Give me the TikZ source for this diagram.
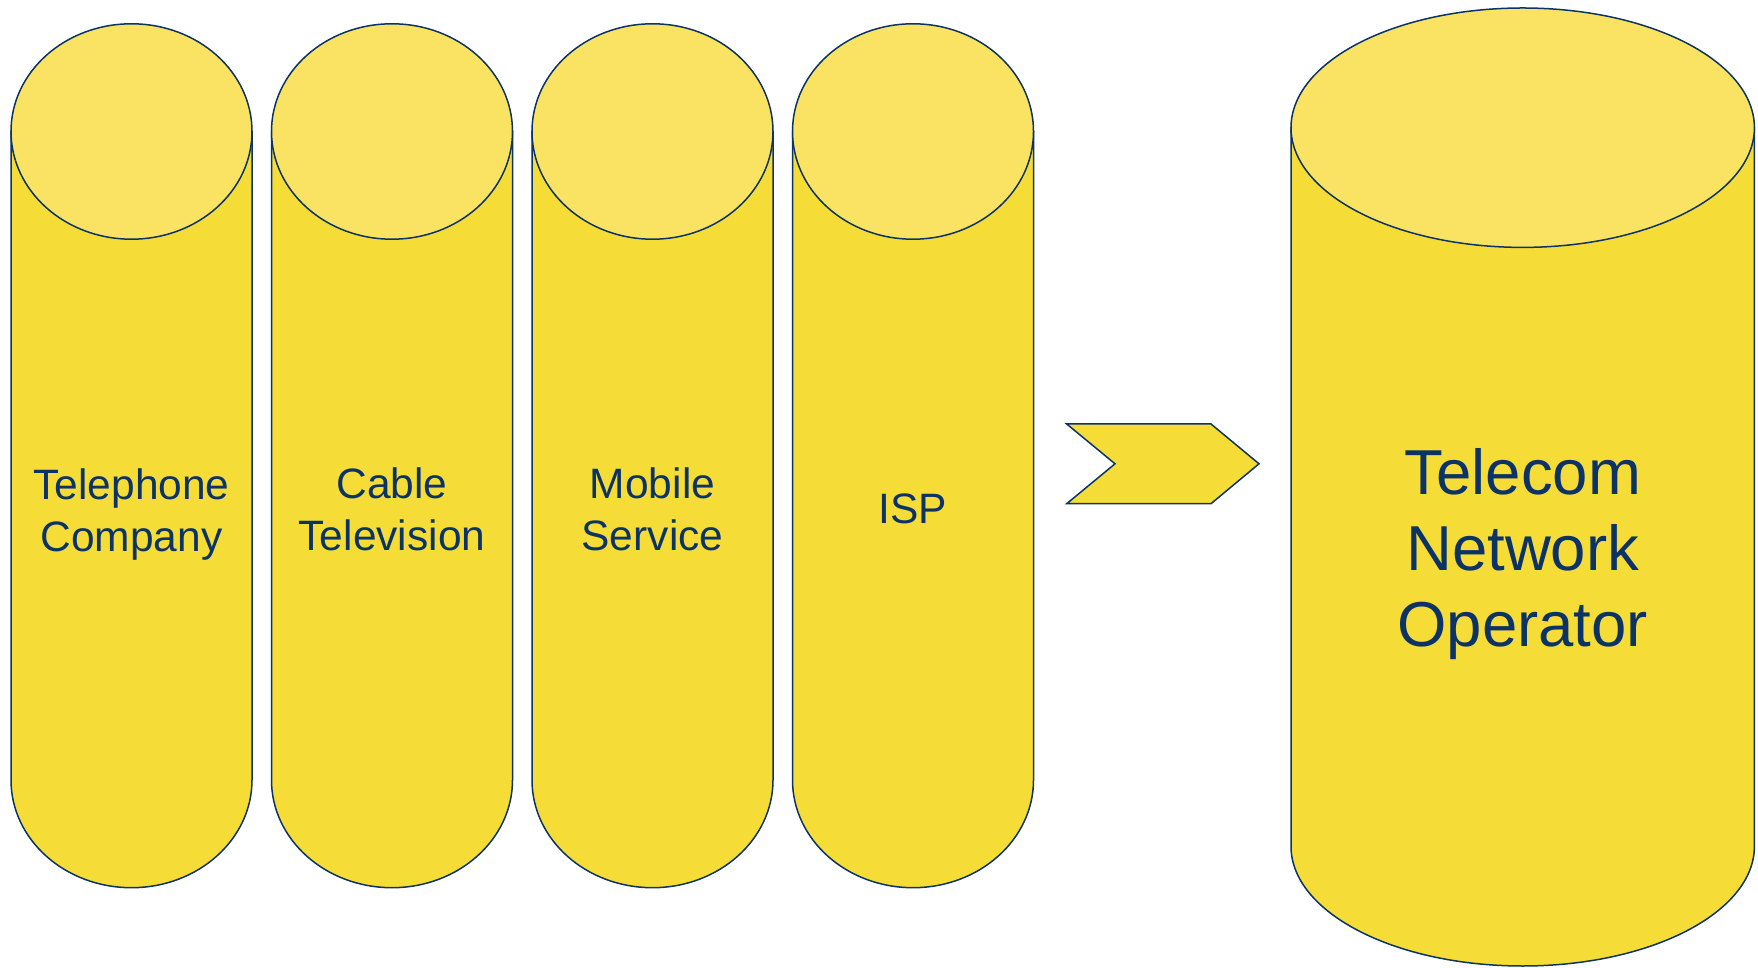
\documentclass[tikz,border=0pt]{standalone}
\usepackage{fontspec}
\setmainfont{Liberation Sans}
\definecolor{cylbody}{RGB}{246,220,54}
\definecolor{cyltop}{RGB}{250,227,98}
\definecolor{navy}{RGB}{11,51,102}

\begin{document}
\begin{tikzpicture}[x=1pt, y=1pt,
    cylline/.style={draw=navy, line width=1.5pt},
    cyltext/.style={text=navy, align=center, inner sep=0pt, font=\fontsize{42.5}{52}\selectfont},
    bigtext/.style={cyltext, font=\fontsize{63.5}{76}\selectfont}]
  \useasboundingbox (0,0) rectangle (1758,967);
  % the four separate services
  \foreach \x/\y/\name/\txt in {11/452.5/tel/{Telephone\\Company}, 271.5/458/cable/{Cable\\Television},
                                532/458/mobile/{Mobile\\Service}, 792.5/458/isp/{ISP}} {
    \path[cylline, fill=cylbody] (\x,835.5) -- (\x,187)
      arc[start angle=180, end angle=360, x radius=120.5pt, y radius=107.7pt] -- (\x+241,835.5) -- cycle;
    \path[cylline, fill=cyltop] (\x+120.5,835.5) ellipse [x radius=120.5pt, y radius=107.7pt];
    \node[cyltext] (\name) at (\x+120.5,\y) {\txt};
  }
  % chevron
  \path[cylline, fill=cylbody] (1066.7,543) -- (1211,543) -- (1259,503.2) -- (1211,463.3)
    -- (1066.7,463.3) -- (1115,503.2) -- cycle;
  % the one operator
  \path[cylline, fill=cylbody] (1291,839.3) -- (1291,120.7)
    arc[start angle=180, end angle=360, x radius=231.7pt, y radius=119.7pt] -- (1754.4,839.3) -- cycle;
  \path[cylline, fill=cyltop] (1522.7,839.3) ellipse [x radius=231.7pt, y radius=119.7pt];
  \node[bigtext] (operator) at (1522.7,413) {Telecom\\Network\\Operator};
\end{tikzpicture}
\end{document}
